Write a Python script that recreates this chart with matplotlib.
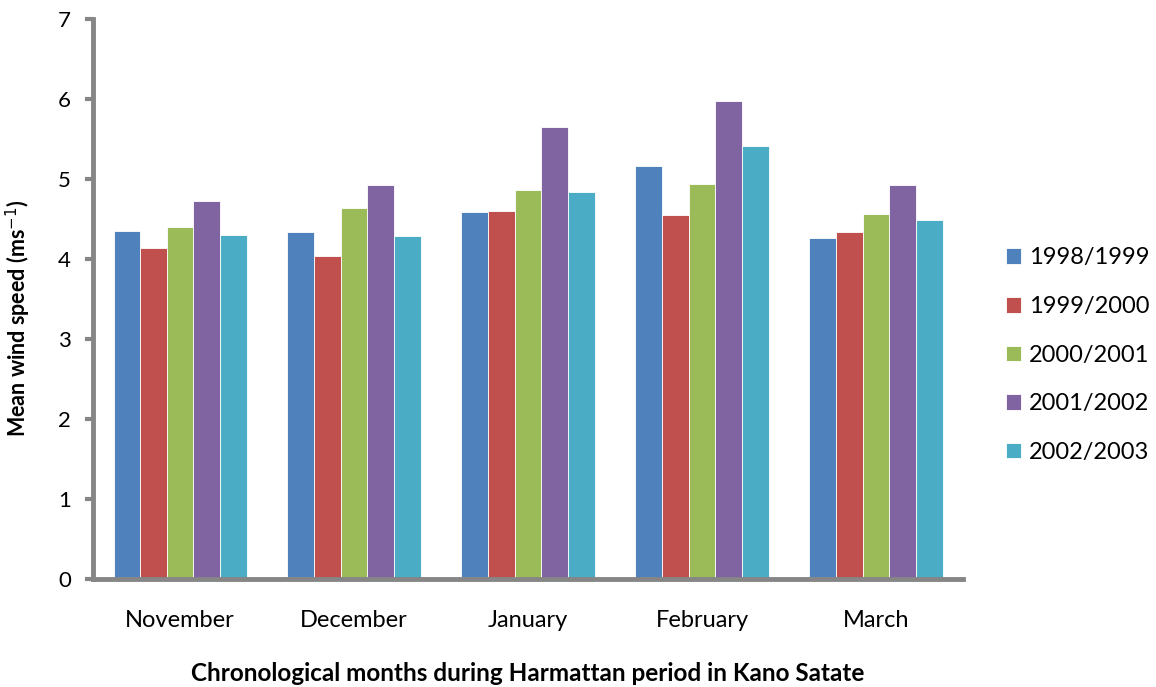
import matplotlib.pyplot as plt
import numpy as np

months = ['November', 'December', 'January', 'February', 'March']
seasons = ['1998/1999', '1999/2000', '2000/2001', '2001/2002', '2002/2003']
s1998 = [4.35, 4.34, 4.58, 5.16, 4.26]
s1999 = [4.14, 4.04, 4.60, 4.55, 4.34]
s2000 = [4.40, 4.63, 4.86, 4.94, 4.56]
s2001 = [4.72, 4.92, 5.65, 5.97, 4.92]
s2002 = [4.30, 4.28, 4.83, 5.41, 4.48]
colors = ['#4F81BD', '#C0504D', '#9BBB59', '#8064A2', '#4BACC6']

plt.rcParams['font.family'] = ['Lato', 'DejaVu Sans']

fig = plt.figure(figsize=(11.56, 6.87), dpi=100)
ax = fig.add_axes([0.0805, 0.157, 0.7525, 0.816])

x = np.arange(len(months))
w = 0.153
for i, (vals, lab) in enumerate(zip([s1998, s1999, s2000, s2001, s2002], seasons)):
    ax.bar(x + (i - 2) * w, vals, w, color=colors[i], label=lab,
           edgecolor='white', linewidth=0.6)

ax.set_xlim(-0.5, 4.5)
ax.set_ylim(0, 7)
ax.set_yticks(range(8))
ax.set_xticks(x)
ax.set_xticklabels(months, fontsize=17)
ax.tick_params(axis='y', labelsize=16, length=6, width=3, color='#868686', pad=10)
ax.tick_params(axis='x', length=0, pad=22)

for s in ['top', 'right']:
    ax.spines[s].set_visible(False)
for s in ['left', 'bottom']:
    ax.spines[s].set_color('#868686')
    ax.spines[s].set_linewidth(3.5)

ax.set_ylabel('Mean wind speed (ms$^{-1}$)', fontsize=15.5, fontweight='bold')
ax.yaxis.set_label_coords(-0.069, 0.466)
ax.set_xlabel('Chronological months during Harmattan period in Kano Satate',
              fontsize=17.5, fontweight='bold')
ax.xaxis.set_label_coords(0.5, -0.148)

ax.legend(loc='center left', bbox_to_anchor=(0.870, 0.483),
          bbox_transform=fig.transFigure, frameon=False, borderpad=0,
          borderaxespad=0, fontsize=17, handlelength=0.64, handleheight=0.64,
          labelspacing=1.17, handletextpad=0.36)

fig.savefig('out.png', dpi=100)
